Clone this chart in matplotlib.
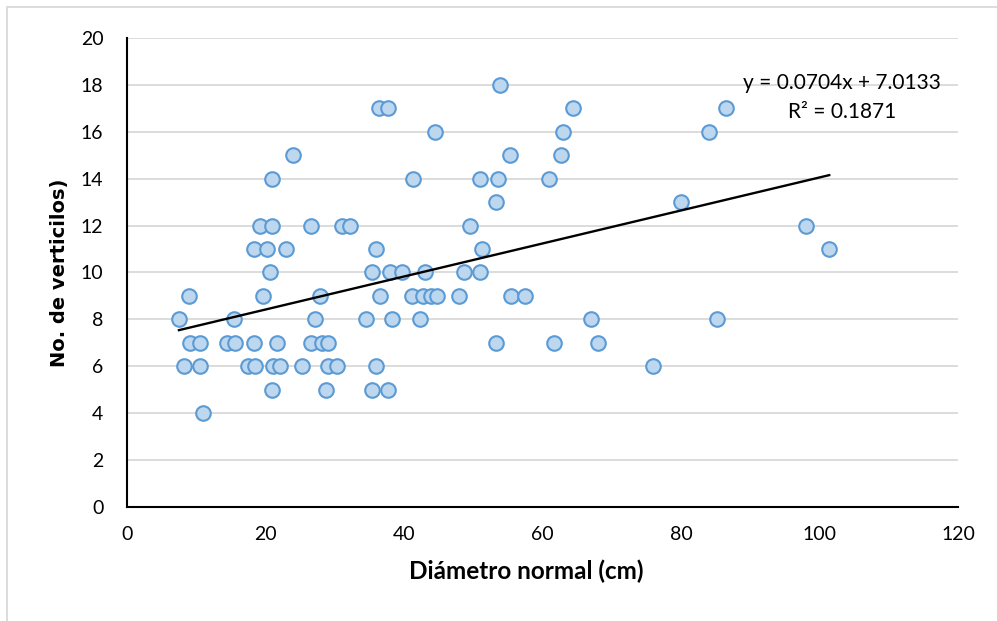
import numpy as np
import matplotlib
matplotlib.use("Agg")
import matplotlib.pyplot as plt
from matplotlib.patches import Rectangle

# diameter (cm) and whorl count per tree
diametro = [
    53.9,
    36.4, 37.7, 64.4, 86.5,
    44.5, 62.9, 84.1,
    24.0, 55.3, 62.7,
    20.9, 41.3, 51.0, 53.5, 60.9,
    53.3, 80.0,
    19.2, 20.9, 26.5, 31.1, 32.2, 49.5, 98.0,
    18.3, 20.2, 23.0, 36.0, 51.2, 101.4,
    20.6, 35.4, 38.0, 39.7, 43.0, 48.6, 51.0,
    9.0, 19.6, 27.8, 36.5, 41.2, 42.7, 43.9, 44.8, 48.0, 55.5, 57.5,
    7.5, 15.4, 27.1, 34.5, 38.2, 42.3, 67.0, 85.2,
    9.1, 10.6, 14.5, 15.6, 18.4, 21.6, 26.5, 28.2, 29.0, 53.3, 61.6, 68.0,
    8.2, 10.5, 17.4, 18.5, 21.1, 22.1, 25.3, 29.0, 30.3, 36.0, 75.9,
    21.0, 28.7, 35.4, 37.7,
    11.0,
]
verticilos = (
    [18] * 1 + [17] * 4 + [16] * 3 + [15] * 3 + [14] * 5 + [13] * 2
    + [12] * 7 + [11] * 6 + [10] * 7 + [9] * 11 + [8] * 8 + [7] * 12
    + [6] * 11 + [5] * 4 + [4] * 1
)

# linear trend as reported
pendiente = 0.0704
intercepto = 7.0133
r2 = 0.1871

x_ticks = [0, 20, 40, 60, 80, 100, 120]
y_ticks = [0, 2, 4, 6, 8, 10, 12, 14, 16, 18, 20]

plt.rcParams['font.family'] = ['Lato', 'DejaVu Sans']

fig = plt.figure(figsize=(9.97, 6.21), dpi=100)
ax = fig.add_axes([0.1274, 0.1836, 0.8335, 0.7552])

# thin frame round the chart area
fig.patches.append(Rectangle((0.007, -0.1), 1.2, 1.1 - 0.011, transform=fig.transFigure,
                             fill=False, edgecolor='#D9D9D9', linewidth=1.3, zorder=0))

ax.set_xlim(0, 120)
ax.set_ylim(0, 20)
ax.set_xticks(x_ticks)
ax.set_yticks(y_ticks)
ax.tick_params(length=0, labelsize=14, colors='black')
ax.tick_params(axis='y', pad=17)
ax.tick_params(axis='x', pad=14)

ax.grid(axis='y', color='#D9D9D9', linewidth=1.3)
ax.set_axisbelow(True)
for side in ['top', 'right']:
    ax.spines[side].set_visible(False)
for side in ['left', 'bottom']:
    ax.spines[side].set_linewidth(1.5)
    ax.spines[side].set_color('black')

ax.scatter(diametro, verticilos, s=110, facecolor='#BDD7EE', edgecolor='#5B9BD5',
           linewidth=1.5, zorder=3, clip_on=False)

xs = np.array([min(diametro), max(diametro)])
ax.plot(xs, pendiente * xs + intercepto, color='black', linewidth=1.7, zorder=4)

ax.text(103.2, 18.08, f'y = {pendiente}x + {intercepto}', ha='center', va='center', fontsize=15)
ax.text(103.2, 16.84, f'R² = {r2}', ha='center', va='center', fontsize=15)

ax.set_xlabel('Diámetro normal (cm)', fontsize=17.5, fontweight='bold')
ax.set_ylabel('No. de verticilos)', fontsize=14, fontweight='bold', family='DejaVu Sans')
ax.xaxis.set_label_coords(0.48, -0.113)
ax.yaxis.set_label_coords(-0.07, 0.5)

fig.savefig('out.png', dpi=100)
